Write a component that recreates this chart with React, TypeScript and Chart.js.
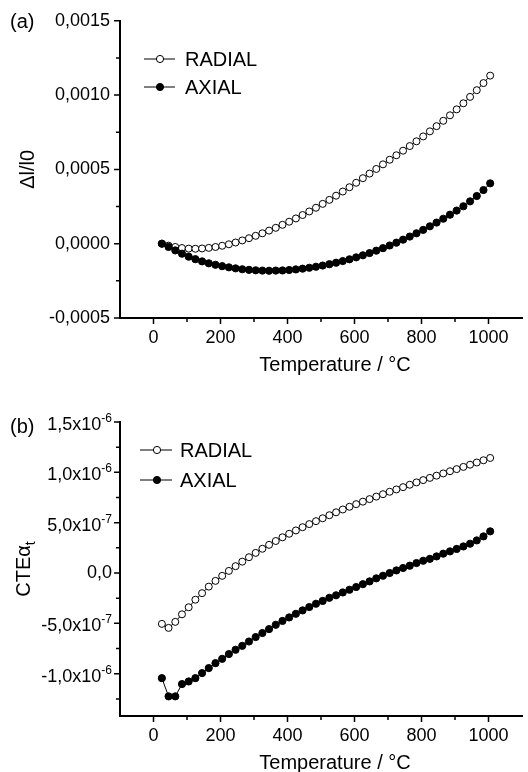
import { useEffect, useRef } from 'react';
import { Chart, registerables } from 'chart.js';

Chart.register(...registerables);

const FONT = "'Liberation Sans', Arial, Helvetica, sans-serif";

// Temperature (°C) of every measured point
const temperature = [
  25, 45, 65, 85, 105, 125, 145, 165, 185, 205,
  225, 245, 265, 285, 305, 325, 345, 365, 385, 405,
  425, 445, 465, 485, 505, 525, 545, 565, 585, 605,
  625, 645, 665, 685, 705, 725, 745, 765, 785, 805,
  825, 845, 865, 885, 905, 925, 945, 965, 985, 1005,
];

// Panel (a): Δl/l0, in units of 1e-4
const radialA = [
  0.0, -0.13, -0.22, -0.29, -0.33, -0.34, -0.32, -0.28, -0.22, -0.14,
  -0.04, 0.08, 0.22, 0.37, 0.53, 0.7, 0.88, 1.07, 1.27, 1.48,
  1.7, 1.93, 2.17, 2.42, 2.68, 2.95, 3.23, 3.51, 3.8, 4.1,
  4.41, 4.72, 5.03, 5.34, 5.65, 5.95, 6.26, 6.57, 6.89, 7.22,
  7.56, 7.91, 8.27, 8.64, 9.04, 9.45, 9.88, 10.33, 10.81, 11.31,
];
const axialA = [
  0.0, -0.22, -0.45, -0.67, -0.87, -1.04, -1.19, -1.32, -1.42, -1.51,
  -1.59, -1.66, -1.72, -1.76, -1.79, -1.81, -1.82, -1.81, -1.8, -1.77,
  -1.73, -1.68, -1.62, -1.55, -1.47, -1.38, -1.28, -1.17, -1.05, -0.92,
  -0.78, -0.63, -0.47, -0.3, -0.12, 0.07, 0.27, 0.48, 0.7, 0.93,
  1.17, 1.42, 1.68, 1.95, 2.23, 2.52, 2.85, 3.21, 3.61, 4.06,
];
const unitA = 1e-4;

// Panel (b): CTE α_t, in units of 1e-7
const radialB = [
  -5.05, -5.45, -4.85, -4.1, -3.4, -2.65, -2.0, -1.35, -0.78, -0.28,
  0.21, 0.68, 1.13, 1.57, 2.0, 2.41, 2.8, 3.18, 3.55, 3.9,
  4.23, 4.55, 4.86, 5.15, 5.44, 5.74, 6.03, 6.31, 6.58, 6.84,
  7.09, 7.34, 7.59, 7.83, 8.07, 8.3, 8.53, 8.77, 9.0, 9.23,
  9.45, 9.67, 9.89, 10.11, 10.32, 10.54, 10.76, 10.98, 11.2, 11.43,
];
const axialB = [
  -10.44, -12.25, -12.25, -11.03, -10.77, -10.44, -9.94, -9.44, -8.95, -8.52,
  -8.05, -7.62, -7.23, -6.8, -6.36, -5.96, -5.57, -5.14, -4.76, -4.41,
  -4.05, -3.71, -3.38, -3.05, -2.77, -2.46, -2.21, -1.93, -1.66, -1.39,
  -1.11, -0.83, -0.53, -0.27, 0.0, 0.26, 0.5, 0.73, 0.99, 1.22,
  1.41, 1.65, 1.92, 2.15, 2.39, 2.64, 2.91, 3.24, 3.64, 4.14,
];
const unitB = 1e-7;

const seriesNames = ['RADIAL', 'AXIAL'];

// Axes
const xRange = [-100, 1100];
const xTickValues = [0, 200, 400, 600, 800, 1000];
const xMinorValues = [100, 300, 500, 700, 900];
const xTickLabels = ['0', '200', '400', '600', '800', '1000'];
const xTitle = 'Temperature / °C';

const yRangeA = [-0.0005, 0.0015];
const yTickValuesA = [-0.0005, 0, 0.0005, 0.001, 0.0015];
const yMinorValuesA = [-0.00025, 0.00025, 0.00075, 0.00125];
const yTickLabelsA = ['-0,0005', '0,0000', '0,0005', '0,0010', '0,0015'];

const yRangeB = [-1.42e-6, 1.5e-6];
const yTickValuesB = [-1e-6, -5e-7, 0, 5e-7, 1e-6, 1.5e-6];
const yMinorValuesB = [-1.25e-6, -7.5e-7, -2.5e-7, 2.5e-7, 7.5e-7, 1.25e-6];
const yTickMantissaB = ['-1,0x10', '-5,0x10', '0,0', '5,0x10', '1,0x10', '1,5x10'];
const yTickExponentB = ['-6', '-7', '', '-7', '-6', '-6'];

type Panel = {
  tag: string;
  radial: number[];
  axial: number[];
  unit: number;
  yRange: number[];
  yTicks: number[];
  yMinor: number[];
  yLabels?: string[];
  yMantissa?: string[];
  yExponent?: string[];
  yTitle: string;
  yTitleSub: string;
  padTop: number;
  xHeight: number;
  titleBaseX: number;
  legend: { l0: number; l1: number; dot: number; text: number; y0: number; y1: number };
  tagY: number;
  xTitleBase: number;
};

const panels: Panel[] = [
  {
    tag: '(a)',
    radial: radialA,
    axial: axialA,
    unit: unitA,
    yRange: yRangeA,
    yTicks: yTickValuesA,
    yMinor: yMinorValuesA,
    yLabels: yTickLabelsA,
    yTitle: 'Δl/l0',
    yTitleSub: '',
    padTop: 20,
    xHeight: 68,
    titleBaseX: 34,
    legend: { l0: 144, l1: 175, dot: 160, text: 185, y0: 59, y1: 87 },
    tagY: 22,
    xTitleBase: 371,
  },
  {
    tag: '(b)',
    radial: radialB,
    axial: axialB,
    unit: unitB,
    yRange: yRangeB,
    yTicks: yTickValuesB,
    yMinor: yMinorValuesB,
    yMantissa: yTickMantissaB,
    yExponent: yTickExponentB,
    yTitle: 'CTEα',
    yTitleSub: 't',
    padTop: 36,
    xHeight: 56,
    titleBaseX: 30,
    legend: { l0: 140, l1: 172, dot: 157, text: 180, y0: 64, y1: 94 },
    tagY: 41,
    xTitleBase: 383,
  },
];

const W = 528;
const H = 386;

function decorPlugin(p: Panel) {
  return {
    id: 'decor',
    afterDraw(chart: any) {
      const ctx: CanvasRenderingContext2D = chart.ctx;
      const a = chart.chartArea;
      const xs = chart.scales.x;
      const ys = chart.scales.y;
      ctx.save();
      // tick marks
      ctx.strokeStyle = '#000';
      ctx.lineWidth = 1.5;
      ctx.beginPath();
      xTickValues.forEach((v) => {
        const px = xs.getPixelForValue(v);
        ctx.moveTo(px, a.bottom);
        ctx.lineTo(px, a.bottom + 6);
      });
      xMinorValues.forEach((v) => {
        const px = xs.getPixelForValue(v);
        ctx.moveTo(px, a.bottom);
        ctx.lineTo(px, a.bottom + 4);
      });
      p.yTicks.forEach((v) => {
        const py = ys.getPixelForValue(v);
        ctx.moveTo(a.left - 6, py);
        ctx.lineTo(a.left, py);
      });
      p.yMinor.forEach((v) => {
        const py = ys.getPixelForValue(v);
        ctx.moveTo(a.left - 4, py);
        ctx.lineTo(a.left, py);
      });
      ctx.stroke();

      ctx.fillStyle = '#000';
      // custom y labels with exponents
      if (p.yMantissa && p.yExponent) {
        const right = a.left - 8;
        p.yTicks.forEach((v, i) => {
          const py = ys.getPixelForValue(v);
          const m = p.yMantissa![i];
          const e = p.yExponent![i];
          if (e) {
            ctx.font = `12px ${FONT}`;
            const we = ctx.measureText(e).width;
            ctx.font = `18px ${FONT}`;
            const wm = ctx.measureText(m).width;
            ctx.textAlign = 'left';
            ctx.textBaseline = 'alphabetic';
            ctx.fillText(m, right - we - wm, py + 8);
            ctx.font = `12px ${FONT}`;
            ctx.fillText(e, right - we, py + 0);
          } else {
            ctx.font = `18px ${FONT}`;
            ctx.textAlign = 'right';
            ctx.textBaseline = 'middle';
            ctx.fillText(m, right, py);
          }
        });
      }

      // legend
      const ds = chart.data.datasets;
      const ys2 = [p.legend.y0, p.legend.y1];
      ds.forEach((d: any, i: number) => {
        const y = ys2[i];
        ctx.strokeStyle = '#000';
        ctx.lineWidth = 1;
        ctx.beginPath();
        ctx.moveTo(p.legend.l0, y);
        ctx.lineTo(p.legend.l1, y);
        ctx.stroke();
        ctx.beginPath();
        ctx.arc(p.legend.dot, y, 3.6, 0, Math.PI * 2);
        ctx.fillStyle = d.pointBackgroundColor;
        ctx.fill();
        ctx.lineWidth = 1;
        ctx.stroke();
        ctx.fillStyle = '#000';
        ctx.font = `20px ${FONT}`;
        ctx.textAlign = 'left';
        ctx.textBaseline = 'middle';
        ctx.fillText(d.label, p.legend.text, y + 1);
      });

      // panel tag
      ctx.font = `20px ${FONT}`;
      ctx.textAlign = 'left';
      ctx.textBaseline = 'middle';
      ctx.fillText(p.tag, 10, p.tagY);

      // x title
      ctx.textAlign = 'center';
      ctx.textBaseline = 'alphabetic';
      ctx.fillText(xTitle, 335, p.xTitleBase);

      // y title (rotated)
      const cy = (a.top + a.bottom) / 2;
      ctx.translate(p.titleBaseX, cy);
      ctx.rotate(-Math.PI / 2);
      ctx.font = `20px ${FONT}`;
      const wm = ctx.measureText(p.yTitle).width;
      ctx.font = `14px ${FONT}`;
      const ws = p.yTitleSub ? ctx.measureText(p.yTitleSub).width : 0;
      const start = -(wm + ws) / 2;
      ctx.textAlign = 'left';
      ctx.textBaseline = 'alphabetic';
      ctx.font = `20px ${FONT}`;
      ctx.fillText(p.yTitle, start, 0);
      if (p.yTitleSub) {
        ctx.font = `14px ${FONT}`;
        ctx.fillText(p.yTitleSub, start + wm, 5);
      }
      ctx.restore();
    },
  };
}

function buildConfig(p: Panel): any {
  const mk = (vals: number[]) => temperature.map((t, i) => ({ x: t, y: vals[i] * p.unit }));
  return {
    type: 'line',
    data: {
      datasets: [
        {
          label: seriesNames[0],
          data: mk(p.radial),
          borderColor: '#000',
          borderWidth: 1,
          pointRadius: 3.5,
          pointBorderWidth: 1,
          pointBackgroundColor: '#fff',
          pointBorderColor: '#000',
          tension: 0,
          fill: false,
          order: 1,
        },
        {
          label: seriesNames[1],
          data: mk(p.axial),
          borderColor: '#000',
          borderWidth: 1,
          pointRadius: 3.6,
          pointBorderWidth: 1,
          pointBackgroundColor: '#000',
          pointBorderColor: '#000',
          tension: 0,
          fill: false,
          order: 0,
        },
      ],
    },
    options: {
      animation: false,
      responsive: false,
      maintainAspectRatio: false,
      events: [],
      layout: { padding: { top: p.padTop, right: 6, left: 0, bottom: 0 } },
      plugins: {
        legend: { display: false },
        tooltip: { enabled: false },
        title: { display: false },
      },
      scales: {
        x: {
          type: 'linear',
          min: xRange[0],
          max: xRange[1],
          afterBuildTicks: (s: any) => {
            s.ticks = xTickValues.map((v) => ({ value: v }));
          },
          afterFit: (s: any) => {
            s.height = p.xHeight;
          },
          ticks: {
            callback: (_v: any, i: number) => xTickLabels[i],
            font: { family: FONT, size: 18 },
            color: '#000',
            padding: 9,
            maxRotation: 0,
            autoSkip: false,
          },
          grid: { display: false, drawTicks: false },
          border: { display: true, color: '#000', width: 2 },
        },
        y: {
          type: 'linear',
          min: p.yRange[0],
          max: p.yRange[1],
          afterBuildTicks: (s: any) => {
            s.ticks = p.yTicks.map((v) => ({ value: v }));
          },
          afterFit: (s: any) => {
            s.width = 120;
          },
          ticks: {
            callback: (_v: any, i: number) => (p.yLabels ? p.yLabels[i] : ''),
            font: { family: FONT, size: 18 },
            color: '#000',
            padding: 10,
            autoSkip: false,
          },
          grid: { display: false, drawTicks: false },
          border: { display: true, color: '#000', width: 2 },
        },
      },
    },
    plugins: [decorPlugin(p)],
  };
}

function PanelChart({ p }: { p: Panel }) {
  const ref = useRef<HTMLCanvasElement>(null);
  useEffect(() => {
    if (!ref.current) return;
    const chart = new Chart(ref.current, buildConfig(p));
    return () => chart.destroy();
  }, [p]);
  return <canvas ref={ref} width={W} height={H} style={{ display: 'block', width: W, height: H }} />;
}

export default function App() {
  return (
    <div style={{ position: 'fixed', left: 0, top: 0, width: W, height: H * 2, background: '#fff' }}>
      {panels.map((p) => (
        <PanelChart key={p.tag} p={p} />
      ))}
    </div>
  );
}
